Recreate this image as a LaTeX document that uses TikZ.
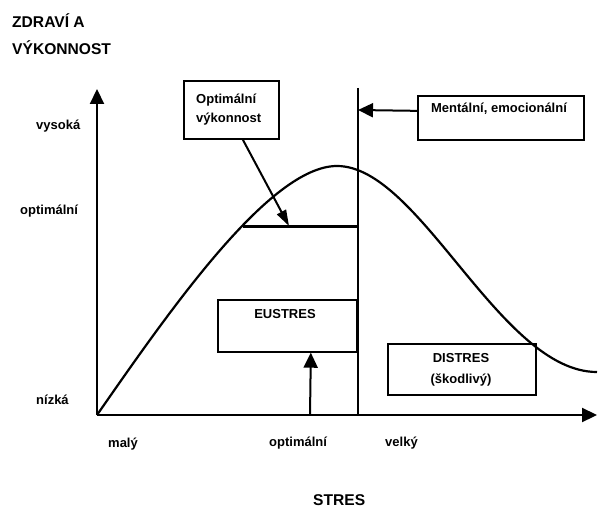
\documentclass[tikz,border=0pt]{standalone}
\usepackage{fontspec}
\setmainfont{Liberation Sans}
\usetikzlibrary{arrows.meta}

\tikzset{
  lbl/.style={font=\fontsize{13}{15}\selectfont\bfseries, inner sep=0pt, anchor=base west},
  big/.style={font=\fontsize{15.6}{18}\selectfont\bfseries, inner sep=0pt, anchor=base west},
  box/.style={draw, line width=1.7pt, inner sep=0pt, anchor=north west},
  thin arrow/.style={-{Triangle[length=16pt,width=10pt]}},
}

\begin{document}
\begin{tikzpicture}[>={Triangle[length=15pt,width=14pt]}, x=1pt, y=-1pt]
	\useasboundingbox (0,0) rectangle (599,508);
	% titulky os
	\node[big] (zdravi) at (12,28) {ZDRAVÍ A};
	\node[big] (vykon) at (12,55) {VÝKONNOST};
	\node[big] (stres) at (313,505) {STRES};
	\node[lbl] (vysoka) at (36,129) {vysoká};
	\node[lbl] (optY) at (20,214) {optimální};
	\node[lbl] (nizka) at (36,404) {nízká};
	\node[lbl] (maly) at (108,447) {malý};
	\node[lbl] (optX) at (269,446) {optimální};
	\node[lbl] (velky) at (385,446) {velký};
	% osy
	\coordinate (O) at (97,415);
	\coordinate (Ytop) at (97,89);
	\coordinate (Xend) at (597,415);
	\draw[line width=2.2pt, ->] (O) -- (Ytop);
	\draw[line width=2.2pt, ->] (O) -- (Xend);
	% krivka
	\draw[line width=2.2pt] (O) .. controls (170,310) and (270,166) .. (337,166)
		.. controls (420,166) and (500,372) .. (597,372);
	% hranice
	\coordinate (Vtop) at (358,88);
	\coordinate (Vbot) at (358,415);
	\draw[line width=1.3pt] (Vtop) -- (Vbot);
	\coordinate (optL) at (243,226);
	\coordinate (optR) at (358,226);
	\draw[line width=3pt] (optL) -- (optR);
	% ramecky
	\node[box, minimum width=95, minimum height=58] (optbox) at (183,80) {};
	\node[lbl] (opt1) at (196,103) {Optimální};
	\node[lbl] (opt2) at (196,122.5) {výkonnost};
	\node[box, minimum width=166, minimum height=44] (mentbox) at (417,95) {};
	\node[lbl, anchor=base] (ment) at (499,113) {Mentální, emocionální};
	\node[box, minimum width=139, minimum height=52] (eubox) at (217,299) {};
	\node[lbl, anchor=base] (eu) at (285,318) {EUSTRES};
	\node[box, minimum width=148, minimum height=51] (disbox) at (387,343) {};
	\node[lbl, anchor=base] (dis1) at (461,362) {DISTRES};
	\node[lbl, anchor=base] (dis2) at (461,383) {(škodlivý)};
	% sipky
	\coordinate (optHit) at (289,226);
	\draw[line width=2pt, thin arrow] ([xshift=11.5pt]optbox.south) -- (optHit);
	\coordinate (mentHit) at (358,110);
	\draw[line width=2pt, ->] ([yshift=7pt]mentbox.west) -- (mentHit);
	\coordinate (euFoot) at (310,415);
	\draw[line width=2pt, ->] (euFoot) -- ([xshift=23.5pt]eubox.south);
\end{tikzpicture}
\end{document}
